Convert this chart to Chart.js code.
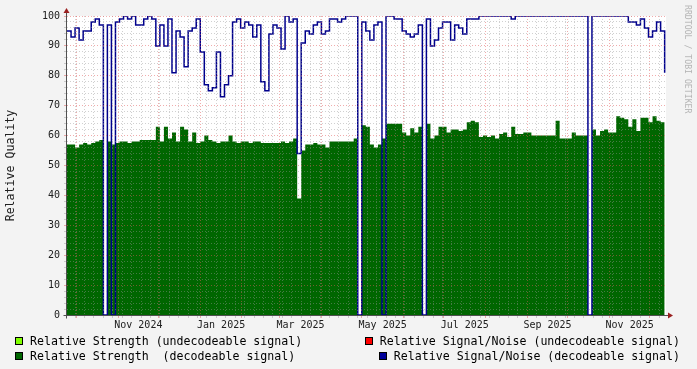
<!DOCTYPE html>
<html>
<head>
<meta charset="utf-8">
<script src="https://cdn.jsdelivr.net/npm/chart.js@4.4.1/dist/chart.umd.min.js"></script>
<style>
  html, body { margin: 0; padding: 0; background: #f3f3f3; }
  #wrap { position: relative; width: 697px; height: 369px; overflow: hidden; background: #f3f3f3; }
  #chart { position: absolute; left: 0; top: 0; }
  #legend { position: absolute; left: 15px; right: 17px; top: 334px;
            font: 11.6px 'DejaVu Sans Mono', monospace; color: #000; }
  .row { display: flex; justify-content: space-between; height: 14.5px; line-height: 14.5px; }
  .item { display: flex; align-items: center; white-space: pre; }
  .box { width: 6px; height: 6px; border: 1px solid #000; margin-right: 7px; }
  #mark { position: absolute; left: 693px; top: 5px; white-space: pre; line-height: 9px;
          transform-origin: 0 0; transform: rotate(90deg);
          font: 8.2px 'DejaVu Sans Mono', monospace; color: #b4b4b4; }
</style>
</head>
<body>
<div id="wrap">
  <canvas id="chart" width="697" height="369"></canvas>
  <div id="legend"></div>
  <div id="mark">RRDTOOL / TOBI OETIKER</div>
</div>
<script>
// samples every 3 days starting 2024-09-24
const firstDay = Date.UTC(2024, 8, 24);
const stepDays = 3;
const spanDays = 445;
const monthNames = ['Jan', 'Feb', 'Mar', 'Apr', 'May', 'Jun', 'Jul', 'Aug', 'Sep', 'Oct', 'Nov', 'Dec'];

// Relative Signal/Noise (decodeable)
const snr = [
  95, 93, 96, 92, 95, 95, 98, 99, 97, 0,
  97, 0, 98, 99, 100, 99, 100, 97, 97, 99,
  100, 99, 90, 97, 90, 99, 81, 95, 93, 83,
  95, 96, 99, 88, 77, 75, 76, 88, 73, 77,
  80, 98, 99, 96, 98, 97, 93, 97, 78, 75,
  94, 97, 96, 89, 100, 98, 99, 54, 91, 95,
  94, 97, 98, 94, 95, 99, 99, 98, 99, 100,
  100, 100, 0, 98, 95, 92, 97, 98, 0, 100,
  100, 99, 99, 95, 94, 93, 94, 97, 0, 99,
  90, 92, 96, 98, 98, 92, 97, 96, 94, 99,
  99, 99, 100, 100, 100, 100, 100, 100, 100, 100,
  99, 100, 100, 100, 100, 100, 100, 100, 100, 100,
  100, 100, 100, 100, 100, 100, 100, 100, 100, 0,
  100, 100, 100, 100, 100, 100, 100, 100, 100, 98,
  98, 97, 99, 96, 93, 95, 98, 95, 81
];

// Relative Strength (decodeable)
const strength = [
  57, 57, 56, 57, 57.5, 57, 57.5, 58, 58.5, 0,
  58, 57, 57.5, 58, 58, 57.5, 58, 58, 58.5, 58.5,
  58.5, 58.5, 63, 58, 63, 59, 61, 58, 63, 62,
  58, 61, 57.5, 58, 60, 58.5, 58, 57.5, 58, 58,
  60, 58, 57.5, 58, 58, 57.5, 58, 58, 57.5, 57.5,
  57.5, 57.5, 57.5, 58, 57.5, 58, 59, 39, 55, 57,
  57, 57.5, 57, 57, 56, 58, 58, 58, 58, 58,
  58, 59, 0, 63.5, 63, 57, 56, 57, 59, 64,
  64, 64, 64, 61, 60, 62.5, 61, 63, 0, 64,
  59, 60, 63, 63, 61, 62, 62, 61.5, 62, 64.5,
  65, 64.5, 59.5, 60, 59.5, 60, 59, 60.5, 61, 59.5,
  63, 60.5, 60.5, 61, 61, 60, 60, 60, 60, 60,
  60, 65, 59, 59, 59, 61, 60, 60, 60, 0,
  62, 60, 61.5, 62, 61, 61, 66.5, 66, 65.5, 63,
  65.5, 61.5, 66, 66, 64.5, 66.5, 65, 64.5, 64
];

const undecStrength = [];
const undecSnr = [];

const dayOf = (y, m, d) => (Date.UTC(y, m, d) - firstDay) / 86400000;

// grid: weekly minor lines, monthly major lines, labels mid-month every 2 months
const tickKind = new Map();
const tickText = new Map();
for (let d = 6; d <= spanDays; d += 7) tickKind.set(d, 'week');
for (let y = 2024, m = 8; y < 2026; m++) {
  if (m > 11) { m = 0; y++; }
  const start = dayOf(y, m, 1);
  const next = m === 11 ? dayOf(y + 1, 0, 1) : dayOf(y, m + 1, 1);
  if (start > spanDays) break;
  if (start >= 0) tickKind.set(start, 'month');
  const mid = (start + next) / 2;
  if (m % 2 === 0 && mid >= 0 && mid <= spanDays) {
    tickKind.set(mid, 'label');
    tickText.set(mid, monthNames[m] + ' ' + y);
  }
}

const majorColor = 'rgba(225, 90, 90, 0.5)';
const minorColor = 'rgba(150, 150, 150, 0.45)';

const xGrid = (ctx) => {
  const k = ctx.tick ? tickKind.get(ctx.tick.value) : null;
  if (k === 'month') return majorColor;
  if (k === 'week') return minorColor;
  return 'rgba(0,0,0,0)';
};
const yGrid = (ctx) => {
  if (!ctx.tick) return minorColor;
  return ctx.tick.value % 10 === 0 ? majorColor : minorColor;
};

const rrdFrame = {
  id: 'rrdFrame',
  beforeDraw(chart) {
    const { ctx, chartArea: a } = chart;
    ctx.save();
    ctx.fillStyle = '#ffffff';
    ctx.fillRect(a.left, a.top, a.right - a.left, a.bottom - a.top);
    ctx.restore();
  },
  afterDraw(chart) {
    const { ctx, chartArea: a } = chart;
    const x0 = Math.round(a.left) - 0.5;
    const y0 = Math.round(a.bottom) + 0.5;
    ctx.save();
    ctx.strokeStyle = '#505050';
    ctx.lineWidth = 1;
    ctx.beginPath();
    ctx.moveTo(x0, y0 + 3); ctx.lineTo(x0, a.top - 3);
    ctx.moveTo(x0 - 3, y0); ctx.lineTo(a.right + 3, y0);
    ctx.stroke();
    ctx.fillStyle = '#9a2020';
    ctx.beginPath();
    ctx.moveTo(x0, a.top - 8); ctx.lineTo(x0 - 3, a.top - 3); ctx.lineTo(x0 + 3, a.top - 3);
    ctx.closePath(); ctx.fill();
    ctx.beginPath();
    ctx.moveTo(a.right + 7, y0); ctx.lineTo(a.right + 2, y0 - 3); ctx.lineTo(a.right + 2, y0 + 3);
    ctx.closePath(); ctx.fill();
    ctx.restore();
  }
};

const mono = 'DejaVu Sans Mono';

const chart = new Chart(document.getElementById('chart'), {
  type: 'line',
  data: {
    labels: snr.map((_, i) => i * stepDays),
    datasets: [
      {
        label: 'Relative Signal/Noise (decodeable signal)',
        data: snr,
        borderColor: '#00008c',
        backgroundColor: '#000099',
        borderWidth: 1.5,
        stepped: true,
        fill: false,
        pointRadius: 0,
        order: 0
      },
      {
        label: 'Relative Strength  (decodeable signal)',
        data: strength,
        borderColor: '#006600',
        backgroundColor: '#006600',
        borderWidth: 0,
        stepped: true,
        fill: 'origin',
        pointRadius: 0,
        order: 1
      },
      {
        label: 'Relative Strength (undecodeable signal)',
        data: undecStrength,
        borderColor: '#80ff00',
        backgroundColor: '#80ff00',
        pointRadius: 0,
        order: 2
      },
      {
        label: 'Relative Signal/Noise (undecodeable signal)',
        data: undecSnr,
        borderColor: '#ff0000',
        backgroundColor: '#ff0000',
        pointRadius: 0,
        order: 3
      }
    ]
  },
  options: {
    responsive: false,
    animation: false,
    events: [],
    devicePixelRatio: 1,
    layout: { padding: { left: 0, right: 31, top: 16, bottom: 0 } },
    plugins: { legend: { display: false }, tooltip: { enabled: false } },
    scales: {
      x: {
        type: 'linear',
        min: 0,
        max: spanDays,
        afterBuildTicks: (scale) => {
          scale.ticks = [...tickKind.keys()].sort((a, b) => a - b).map(v => ({ value: v }));
        },
        afterFit: (scale) => { scale.height = 54; },
        grid: { z: 1, color: xGrid, tickColor: xGrid, tickLength: 3, lineWidth: 1 },
        border: { display: false, dash: [1, 2] },
        ticks: {
          autoSkip: false,
          maxRotation: 0,
          padding: 1,
          color: '#202020',
          font: { family: mono, size: 10 },
          callback: (v) => tickText.get(v) || ''
        }
      },
      y: {
        min: 0,
        max: 100,
        afterFit: (scale) => { scale.width = 67; },
        grid: { z: 1, color: yGrid, tickColor: yGrid, tickLength: 3, lineWidth: 1 },
        border: { display: false, dash: [1, 2] },
        title: {
          display: true,
          text: 'Relative Quality',
          color: '#202020',
          padding: { top: 4, bottom: 0 },
          font: { family: mono, size: 11.6 }
        },
        ticks: {
          stepSize: 2,
          autoSkip: false,
          padding: 4,
          color: '#202020',
          font: { family: mono, size: 10 },
          callback: (v) => (v % 10 === 0 ? String(v) : '')
        }
      }
    }
  },
  plugins: [rrdFrame]
});

// html legend in rrdtool layout: two rows, left and right columns
const byLabel = (t) => chart.data.datasets.find(d => d.label === t);
const legendRows = [
  ['Relative Strength (undecodeable signal)', 'Relative Signal/Noise (undecodeable signal)'],
  ['Relative Strength  (decodeable signal)', 'Relative Signal/Noise (decodeable signal)']
];
const legendEl = document.getElementById('legend');
legendRows.forEach(row => {
  const r = document.createElement('div');
  r.className = 'row';
  row.forEach(t => {
    const ds = byLabel(t);
    const it = document.createElement('div');
    it.className = 'item';
    const b = document.createElement('span');
    b.className = 'box';
    b.style.background = ds.backgroundColor;
    it.appendChild(b);
    it.appendChild(document.createTextNode(ds.label));
    r.appendChild(it);
  });
  legendEl.appendChild(r);
});
</script>
</body>
</html>
